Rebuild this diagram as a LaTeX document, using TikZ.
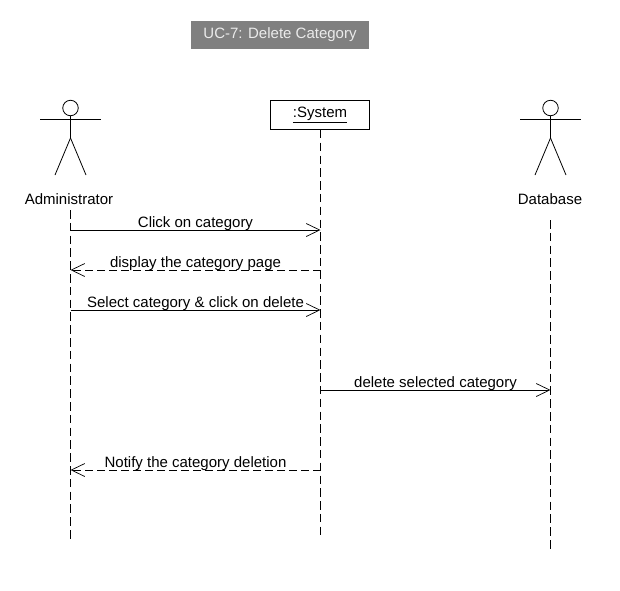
\documentclass[tikz,border=0pt]{standalone}
\usepackage{fontspec}
\setmainfont{Liberation Sans}
\usetikzlibrary{arrows.meta}
\definecolor{titlegray}{HTML}{808080}
\tikzstyle{label} = [font=\fontsize{15}{17}\selectfont, text=black, inner sep=0pt]
\tikzstyle{titleblock} = [rectangle, fill=titlegray, text=white!92!black, font=\fontsize{15}{17}\selectfont, minimum width=178pt, minimum height=28pt, inner sep=0pt]
\tikzstyle{objblock} = [rectangle, draw, fill=white, line width=0.8pt, font=\fontsize{15}{17}\selectfont, minimum width=99pt, minimum height=29pt, inner sep=0pt]
\tikzstyle{lifeline} = [line width=0.8pt, dash pattern=on 8.5pt off 4.3pt]
\tikzstyle{limb} = [line width=0.8pt]
\tikzstyle{msg} = [line width=0.7pt, -{Straight Barb[length=13.5pt,width=13pt,line width=0.7pt]}]
\tikzstyle{reply} = [msg, dash pattern=on 8pt off 4pt]
% stick figure, #1 is the name of its head
\newcommand{\actorfig}[2]{
	\node (#1) [circle, draw, limb, minimum size=15.5pt, inner sep=0pt] at (#2,108) {};
	\draw [limb] (#2-30.5,119) -- (#2+30.5,119);
	\draw [limb] (#1.south) -- (#2,138) -- (#2-15.5,175);
	\draw [limb] (#2,138) -- (#2+15.5,175);
}
\begin{document}
\begin{tikzpicture}[x=1pt,y=-1pt]
	\useasboundingbox (0,0) rectangle (620,590);
	\node (Title) [titleblock] at (280,35) {UC-7: Delete Category};
	\actorfig{AdminHead}{70.5}
	\actorfig{DbHead}{550.5}
	\node (Admin) [label] at (69,199.5) {Administrator};
	\node (System) [objblock] at (320,115) {\underline{:System}};
	\node (Db) [label] at (550,199.5) {Database};

	\coordinate (AdminEnd) at (70.5,540);
	\coordinate (SystemEnd) at (320.5,539);
	\coordinate (DbEnd) at (550.5,550);
	\draw [lifeline] (70.5,210) -- (AdminEnd);
	\draw [lifeline] ([xshift=0.5pt]System.south) -- (SystemEnd);
	\draw [lifeline] (550.5,220) -- (DbEnd);

	\coordinate (A1) at (70.5,230);
	\coordinate (S1) at (320.5,230);
	\coordinate (A2) at (70.5,270);
	\coordinate (S2) at (320.5,270);
	\coordinate (A3) at (70.5,310);
	\coordinate (S3) at (320.5,310);
	\coordinate (S4) at (320.5,390);
	\coordinate (D4) at (550.5,390);
	\coordinate (A5) at (70.5,470);
	\coordinate (S5) at (320.5,470);

	\draw [msg] (A1) -- node[label, above=-0.5pt] {Click on category} (S1);
	\draw [reply] (S2) -- node[label, above=-0.5pt] {display the category page} (A2);
	\draw [msg] (A3) -- node[label, above=-0.5pt] {Select category \& click on delete} (S3);
	\draw [msg] (S4) -- node[label, above=-0.5pt] {delete selected category} (D4);
	\draw [reply] (S5) -- node[label, above=-0.5pt] {Notify the category deletion} (A5);
\end{tikzpicture}
\end{document}
